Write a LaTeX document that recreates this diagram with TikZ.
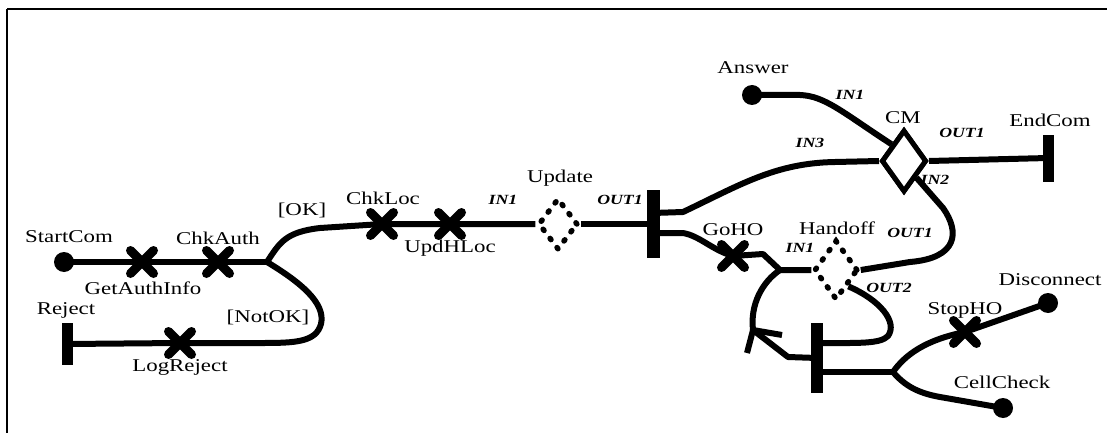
\documentclass[tikz,border=0pt]{standalone}
\usepackage{fontspec}
\setmainfont{Liberation Serif}
\usetikzlibrary{shapes.geometric,shapes.misc}
\newcommand\sxw[1]{\scalebox{1.27}[1]{#1}}
\begin{document}
\begin{tikzpicture}[x=1pt,y=-1pt,
  ucm/.style={line width=6pt, line join=round},
  lbl/.style={font=\fontsize{18}{20}\selectfont, inner sep=0pt},
  port/.style={font=\fontsize{14}{16}\selectfont\bfseries\itshape, inner sep=0pt},
  startpt/.style={circle, fill=black, minimum size=20pt, inner sep=0pt},
  resp/.style={cross out, draw, line width=9pt, minimum size=14pt, inner sep=0pt, line cap=round},
  endbar/.style={rectangle, fill=black, minimum width=11pt, inner sep=0pt},
  stub/.style={diamond, draw, line width=5.5pt, dash pattern=on 1.5pt off 10pt, line cap=round, inner sep=0pt},
  stubsolid/.style={diamond, draw, fill=white, line width=5pt, inner sep=0pt}
]
\useasboundingbox (0,0) rectangle (1107,433);
% frame
\draw[line width=2.2pt] (7,9) -- (1107,9);
\draw[line width=1.6pt] (7,9) -- (7,433);

% elements
\node[startpt] (start) at (64,262) {};
\node[resp] (gai) at (142,262) {};
\node[resp] (chkauth) at (218,262) {};
\coordinate (br1) at (267,262);
\node[resp] (chkloc) at (382,224) {};
\node[resp] (updhloc) at (450,224) {};
\node[resp] (logrej) at (180,343) {};
\node[endbar, minimum height=42pt] (reject) at (67,344) {};
\node[stub, minimum width=40pt, minimum height=52pt] (update) at (558,224) {};
\node[endbar, minimum height=68pt, minimum width=13pt] (bar1) at (653,224) {};
\coordinate (b1u) at (653,213);
\coordinate (b1l) at (653,233);
\node[startpt] (answer) at (752,95) {};
\node[stubsolid, minimum width=45pt, minimum height=62pt] (cm) at (904,161) {};
\node[endbar, minimum height=47pt] (endcom) at (1048,158) {};
\node[stub, minimum width=44pt, minimum height=60pt] (handoff) at (836,270) {};
\node[resp] (goho) at (733,256) {};
\coordinate (j2) at (780,270);
\coordinate (tip) at (753,330);
\node[endbar, minimum height=70pt, minimum width=12pt] (bar2) at (817,358) {};
\coordinate (b2u) at (817,343);
\coordinate (b2l) at (817,372);
\coordinate (fork) at (893,372);
\node[resp] (stopho) at (965,332) {};
\node[startpt] (disconnect) at (1048,303) {};
\node[startpt] (cellcheck) at (1003,408) {};

% paths
\draw[ucm] (start.center) -- (gai.center) -- (chkauth.center) -- (br1);
\draw[ucm] (br1) .. controls (280,242) and (286,232) .. (320,228) -- (chkloc.center) -- (updhloc.center) -- (update.west);
\draw[ucm] (br1) .. controls (300,282) and (326,303) .. (321,324) .. controls (316,342) and (296,343) .. (262,343) -- (logrej.center) -- (reject.center);
\draw[ucm] (update.east) -- (bar1.center);
\draw[ucm] (b1u) -- (683,212) .. controls (740,185) and (775,163) .. (835,162) -- (cm.west);
\draw[ucm] (answer.center) -- (800,95) .. controls (825,96) and (842,112) .. (cm.north west);
\draw[ucm] (cm.east) -- (endcom.center);
\draw[ucm] (cm.south east) -- (943,208) .. controls (960,232) and (958,258) .. (910,262) -- (handoff.east);
\draw[ucm] (b1l) -- (683,233) .. controls (700,236) and (712,250) .. (goho.center) -- (763,254) -- (j2) -- (handoff.west);
\draw[ucm] (j2) .. controls (762,282) and (750,305) .. (tip);
\draw[ucm] (tip) -- (788,357) -- (bar2.center);
\draw[ucm] (tip) -- (782,335);
\draw[ucm] (tip) -- (747,353);
\draw[ucm] (handoff.south east) .. controls (880,300) and (898,322) .. (888,336) .. controls (880,344) and (860,343) .. (b2u);
\draw[ucm] (b2l) -- (fork);
\draw[ucm] (fork) .. controls (905,355) and (925,340) .. (stopho.center) -- (disconnect.center);
\draw[ucm] (fork) .. controls (905,386) and (918,393) .. (940,397) -- (cellcheck.center);

% redraw CM on top
\node[stubsolid, minimum width=45pt, minimum height=62pt] at (904,161) {};

% labels
\node[lbl] (lStartCom) at (69,237) {\sxw{StartCom}};
\node[lbl] (lGetAuthInfo) at (143,288) {\sxw{GetAuthInfo}};
\node[lbl] (lChkAuth) at (218,238) {\sxw{ChkAuth}};
\node[lbl] (lOK) at (302,210) {\sxw{[OK]}};
\node[lbl] (lNotOK) at (268,317) {\sxw{[NotOK]}};
\node[lbl] (lReject) at (66,310) {\sxw{Reject}};
\node[lbl] (lLogReject) at (180,367) {\sxw{LogReject}};
\node[lbl] (lChkLoc) at (383,198) {\sxw{ChkLoc}};
\node[lbl] (lUpdHLoc) at (450,248) {\sxw{UpdHLoc}};
\node[port] (pIn1a) at (503,200) {\sxw{IN1}};
\node[lbl] (lUpdate) at (560,178) {\sxw{Update}};
\node[port] (pOut1a) at (620,200) {\sxw{OUT1}};
\node[lbl] (lAnswer) at (753,68) {\sxw{Answer}};
\node[port] (pIn1b) at (850,95) {\sxw{IN1}};
\node[lbl] (lCM) at (903,118) {\sxw{CM}};
\node[port] (pIn3) at (810,143) {\sxw{IN3}};
\node[port] (pOut1b) at (962,133) {\sxw{OUT1}};
\node[lbl] (lEndCom) at (1050,120) {\sxw{EndCom}};
\node[port] (pIn2) at (935,180) {\sxw{IN2}};
\node[lbl] (lGoHO) at (733,230) {\sxw{GoHO}};
\node[lbl] (lHandoff) at (837,228) {\sxw{Handoff}};
\node[port] (pIn1c) at (800,248) {\sxw{IN1}};
\node[port] (pOut1c) at (910,233) {\sxw{OUT1}};
\node[port] (pOut2) at (889,288) {\sxw{OUT2}};
\node[lbl] (lStopHO) at (965,310) {\sxw{StopHO}};
\node[lbl] (lDisconnect) at (1050,280) {\sxw{Disconnect}};
\node[lbl] (lCellCheck) at (1002,382) {\sxw{CellCheck}};
\end{tikzpicture}
\end{document}
